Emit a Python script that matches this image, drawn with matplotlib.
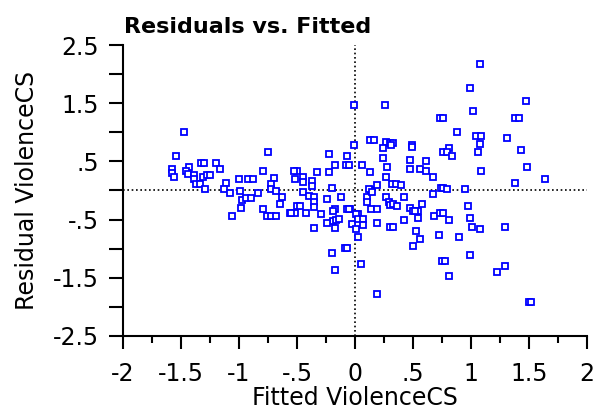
#!/usr/bin/env python3
import matplotlib
matplotlib.use('Agg')
import matplotlib.pyplot as plt
from matplotlib.ticker import FixedLocator, FuncFormatter

# Fitted values (x) and residuals (y)
fitted = [
    -1.47, -1.54, -1.43, -1.58, -1.58, -1.56, -1.46, -1.44, -1.39, -1.39,
    -1.37, -1.34, -1.33, -1.30, -1.31, -1.28, -1.25, -1.29, -1.20, -1.16,
    -1.11, -1.13, -1.08, -1.00, -0.92, -0.88, -0.99, -0.97, -0.94, -0.90,
    -0.98, -1.06, -0.84, -0.79, -0.75, -0.79, -0.70, -0.72, -0.72, -0.68,
    -0.63, -0.65, -0.76, -0.72, -0.68, -0.56,
    -0.50, -0.53, -0.52, -0.45, -0.45, -0.33, -0.22, -0.37, -0.37, -0.45,
    -0.20, -0.22, -0.07, -0.08, -0.05, -0.17, -0.12, -0.24, -0.40, -0.35,
    -0.35, -0.35, -0.50, -0.47, -0.17, -0.29, -0.52, -0.55, -0.42, -0.19,
    -0.04, -0.07, -0.19, -0.16, -0.14, -0.24, -0.17, -0.35, -0.05, -0.03,
    -0.09, -0.07, -0.20, -0.17,
    -0.01, -0.01, 0.06, 0.03, 0.01, 0.03, 0.07, 0.07, 0.01, 0.03,
    0.05, 0.19, 0.19, 0.14, 0.19, 0.10, 0.10, 0.14, 0.12, 0.15,
    0.13, 0.19,
    0.26, 0.13, 0.16, 0.27, 0.30, 0.33, 0.31, 0.24, 0.49, 0.49,
    0.24, 0.28, 0.47, 0.47, 0.27, 0.32, 0.35, 0.40, 0.27, 0.42,
    0.29, 0.30, 0.33, 0.36, 0.47, 0.42, 0.30, 0.33, 0.50, 0.50,
    0.58, 0.54, 0.52, 0.54, 0.53, 0.56, 0.68, 0.73, 0.76, 0.81,
    0.72, 0.75, 0.78, 0.81, 0.90, 0.97, 0.99, 1.01, 1.08, 0.99,
    1.29, 1.29, 1.22, 1.50, 1.52, 0.67, 0.74, 0.76, 0.79, 0.95,
    1.38, 1.08, 0.99, 1.47, 1.02, 0.73, 0.76, 1.38, 1.41, 0.88,
    1.04, 1.09, 1.08, 1.31, 1.06, 0.81, 0.76, 0.79, 0.84, 1.43,
    1.09, 1.48, 1.64, 0.61, 0.56, 0.61, 0.67,
]
residual = [
    1.01, 0.59, 0.41, 0.37, 0.30, 0.23, 0.33, 0.29, 0.26, 0.19,
    0.12, 0.12, 0.48, 0.48, 0.23, 0.26, 0.27, 0.02, 0.48, 0.37,
    0.13, 0.02, -0.05, 0.19, 0.19, 0.19, -0.01, -0.16, -0.13, -0.13,
    -0.30, -0.44, -0.05, -0.31, 0.66, 0.34, 0.21, 0.12, 0.02, -0.01,
    -0.12, -0.23, -0.44, -0.44, -0.44, -0.39,
    0.34, 0.34, 0.20, 0.23, 0.14, 0.31, 0.31, 0.16, 0.07, -0.02,
    0.05, 0.62, 0.59, 0.44, 0.44, 0.44, -0.12, -0.15, -0.09, -0.11,
    -0.20, -0.28, -0.27, -0.27, -0.31, -0.41, -0.39, -0.39, -0.39, -0.36,
    -0.32, -0.32, -0.52, -0.50, -0.49, -0.55, -0.65, -0.65, -0.31, -0.58,
    -0.98, -0.98, -1.08, -1.37,
    1.47, 0.79, 0.44, -0.41, -0.40, -0.49, -0.49, -0.59, -0.67, -0.80,
    -1.26, -1.78, -0.55, -0.32, -0.31, -0.11, -0.19, 0.01, 0.03, -0.02,
    0.31, 0.10,
    1.47, 0.87, 0.87, 0.83, 0.82, 0.82, 0.78, 0.73, 0.78, 0.75,
    0.55, 0.40, 0.52, 0.37, 0.23, 0.12, 0.12, 0.09, -0.11, -0.12,
    -0.20, -0.25, -0.23, -0.27, -0.30, -0.51, -0.62, -0.62, -0.35, -0.96,
    -0.23, -0.35, -0.36, -0.48, -0.69, -0.83, -0.44, -0.39, -0.39, -0.51,
    -0.76, -1.22, -1.22, -1.47, -0.80, -0.27, -0.48, -0.62, -0.66, -1.11,
    -0.62, -1.29, -1.40, -1.92, -1.92, -0.06, 0.05, 0.05, 0.02, 0.02,
    0.13, 2.17, 1.76, 1.54, 1.37, 1.24, 1.24, 1.24, 1.24, 1.01,
    0.94, 0.94, 0.80, 0.91, 0.66, 0.73, 0.66, 0.66, 0.59, 0.69,
    0.34, 0.41, 0.20, 0.51, 0.37, 0.34, 0.23,
]

x_ticks = [-2, -1.5, -1, -0.5, 0, 0.5, 1, 1.5, 2]
y_ticks = [-2.5, -1.5, -0.5, 0.5, 1.5, 2.5]


def short_fmt(v, pos=None):
    # old stats-package style: ".5" instead of "0.5"
    s = f"{v:g}"
    s = s.replace("0.", ".")
    return s


plt.rcParams['font.family'] = ['DejaVu Sans']

fig = plt.figure(figsize=(5.99, 4.11), dpi=100)
ax = fig.add_axes([0.2053, 0.1825, 0.7747, 0.708])

ax.plot(fitted, residual, linestyle='none', marker='s', markersize=4,
        markerfacecolor='white', markeredgecolor='#0000ff', markeredgewidth=1.3,
        zorder=3)

ax.axhline(0, color='black', linestyle=(0, (1, 1.6)), linewidth=1.2, zorder=2)
ax.axvline(0, color='black', linestyle=(0, (1, 1.6)), linewidth=1.2, zorder=2)

ax.set_xlim(-2, 2)
ax.set_ylim(-2.5, 2.5)

ax.spines['top'].set_visible(False)
ax.spines['right'].set_visible(False)
for side in ('left', 'bottom'):
    ax.spines[side].set_linewidth(1.5)

ax.xaxis.set_major_locator(FixedLocator(x_ticks))
ax.xaxis.set_minor_locator(FixedLocator([t + 0.25 for t in x_ticks[:-1]]))
ax.xaxis.set_major_formatter(FuncFormatter(short_fmt))
ax.yaxis.set_major_locator(FixedLocator(y_ticks))
ax.yaxis.set_minor_locator(FixedLocator([t + 0.5 for t in y_ticks[:-1]]))
ax.yaxis.set_major_formatter(FuncFormatter(short_fmt))

ax.tick_params(axis='both', which='major', direction='out', width=1.5,
               labelsize=17, color='black')
ax.tick_params(axis='x', which='major', length=9, pad=10)
ax.tick_params(axis='x', which='minor', length=5, width=1.5)
ax.tick_params(axis='y', which='major', length=10, pad=7)
ax.tick_params(axis='y', which='minor', length=10, width=1.5)

ax.set_xlabel('Fitted ViolenceCS', fontsize=17, labelpad=0)
ax.set_ylabel('Residual ViolenceCS', fontsize=17, labelpad=10)
ax.set_title('Residuals vs. Fitted', fontsize=16, fontweight='bold',
             loc='left', pad=9, x=0.003)

fig.savefig('out.png', dpi=100)
